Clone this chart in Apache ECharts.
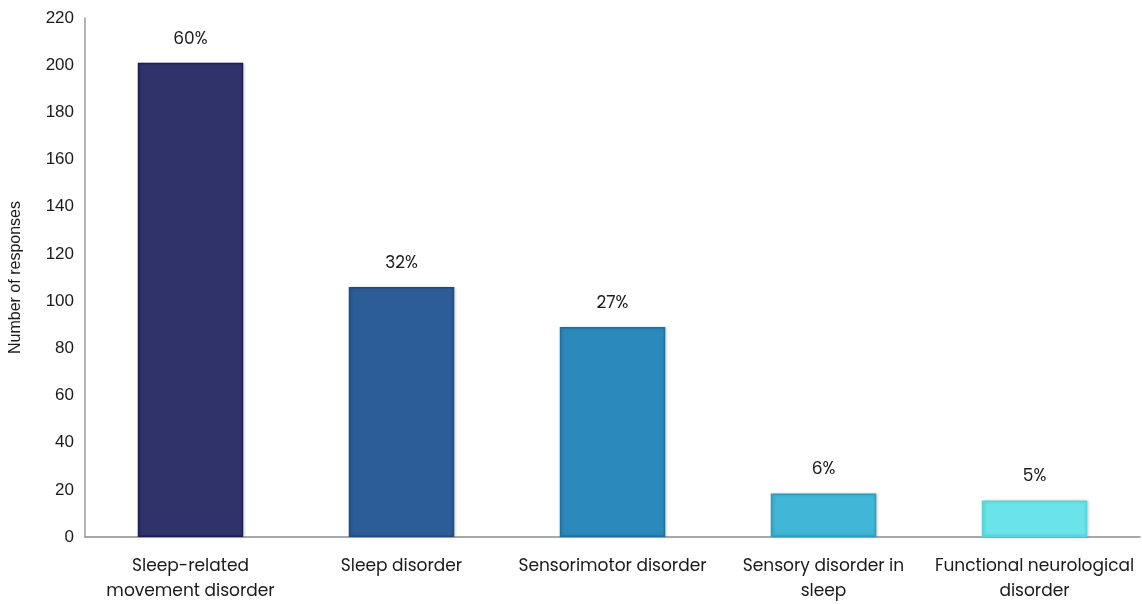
<!DOCTYPE html>
<html>
<head>
<meta charset="utf-8">
<script src="https://cdn.jsdelivr.net/npm/echarts@6/dist/echarts.min.js"></script>
<style>
  html, body { margin: 0; padding: 0; background: #fff; }
  #chart { width: 1142px; height: 604px; }
</style>
</head>
<body>
<div id="chart"></div>
<script>
// Diagnosis categories and response counts
const categories = [
  'Sleep-related\nmovement disorder',
  'Sleep disorder',
  'Sensorimotor disorder',
  'Sensory disorder in\nsleep',
  'Functional neurological\ndisorder'
];
const responses = [201, 106, 89, 18.4, 15.5];
const shareLabels = ['60%', '32%', '27%', '6%', '5%'];
const fillColors = ['#2f3369', '#2d5d96', '#2b89bb', '#41b6d6', '#6ae4e8'];
const edgeColors = ['#1b1d57', '#1f4a80', '#1d6f9e', '#2a9dc0', '#55d5dc'];
const yTicks = { min: 0, max: 220, interval: 20 };

const fontFamily = 'Poppins, "Open Sans", "Noto Sans", sans-serif';

const chart = echarts.init(document.getElementById('chart'), null, { renderer: 'canvas' });
chart.setOption({
  animation: false,
  grid: { left: 79, right: 2, top: 18, bottom: 66, containLabel: false },
  xAxis: {
    type: 'category',
    data: categories,
    axisLine: { show: true, lineStyle: { color: '#8c8c8c', width: 1.5 } },
    axisTick: { show: false },
    axisLabel: {
      color: '#1a1a1a', fontSize: 17, fontFamily, lineHeight: 25, margin: 17, interval: 0
    }
  },
  yAxis: {
    type: 'value',
    min: yTicks.min, max: yTicks.max, interval: yTicks.interval,
    name: 'Number of responses',
    nameLocation: 'middle',
    nameGap: 61,
    nameTextStyle: { color: '#1a1a1a', fontSize: 16, fontFamily: 'Arial, "Liberation Sans", sans-serif' },
    axisLine: { show: true, lineStyle: { color: '#9a9a9a', width: 1.5 } },
    axisTick: { show: false },
    splitLine: { show: false },
    axisLabel: { color: '#1a1a1a', fontSize: 17, fontFamily: 'Arial, "Liberation Sans", sans-serif', margin: 11 }
  },
  series: [{
    type: 'bar',
    barWidth: '50%',
    data: responses.map((v, i) => ({
      value: v,
      itemStyle: {
        color: fillColors[i], borderColor: edgeColors[i], borderWidth: 1.5,
        shadowColor: 'rgba(0,0,0,0.18)', shadowBlur: 3, shadowOffsetX: 1, shadowOffsetY: 0
      }
    })),
    label: {
      show: true,
      position: 'top',
      distance: 15,
      color: '#1a1a1a',
      fontSize: 17,
      fontFamily,
      formatter: p => shareLabels[p.dataIndex]
    }
  }]
});
</script>
</body>
</html>
